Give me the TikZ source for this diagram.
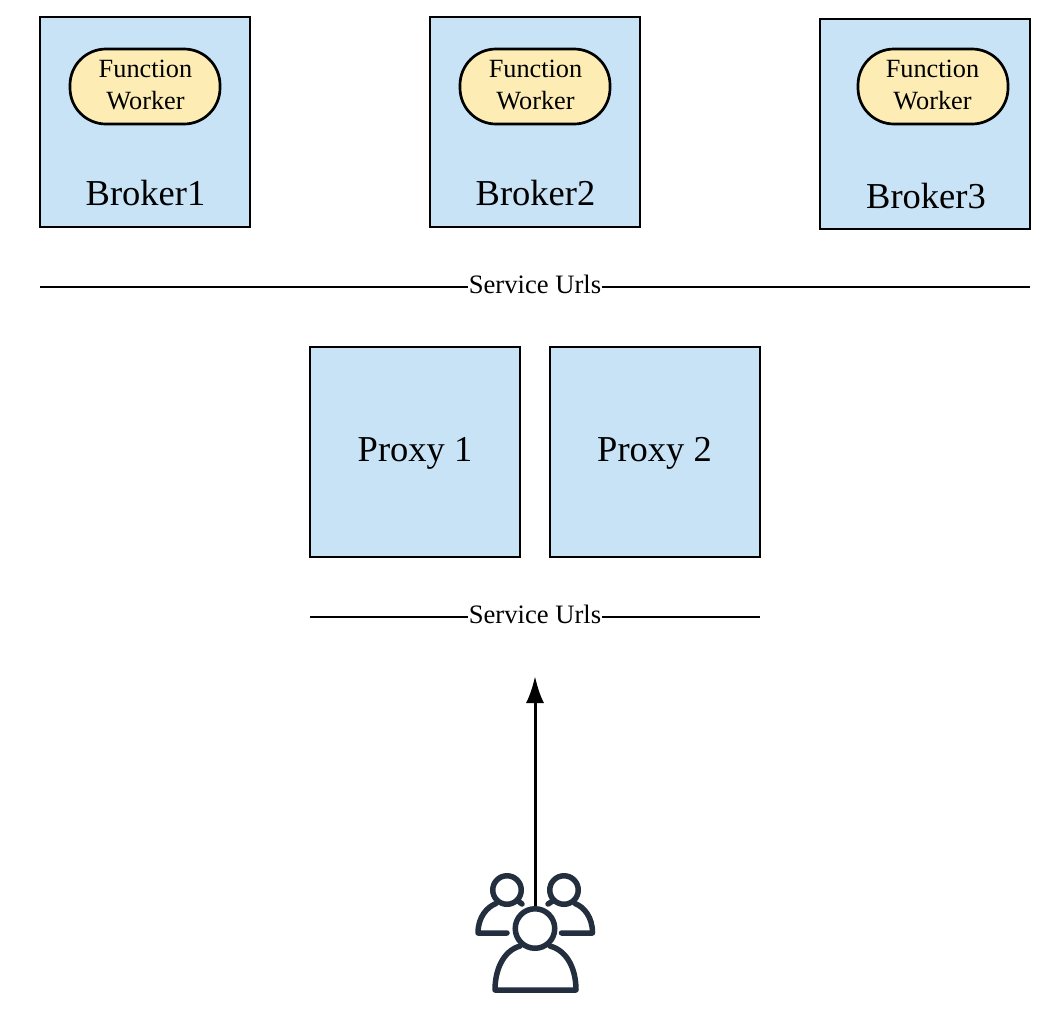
\documentclass[tikz,border=0pt]{standalone}
\usepackage{fontspec}
\setmainfont{Liberation Serif}
\usetikzlibrary{arrows.meta}
\definecolor{boxblue}{HTML}{C8E3F6}
\definecolor{pillyellow}{HTML}{FDEDB5}
\definecolor{icon}{HTML}{232F3E}
\tikzset{
  x=1pt,y=-1pt,
  bluebox/.style={draw=black,fill=boxblue,line width=2.7pt,minimum width=210pt,minimum height=210pt,inner sep=0pt},
  pill/.style={draw=black,fill=pillyellow,line width=2.7pt,rounded corners=36pt,minimum width=150pt,minimum height=75pt,inner sep=0pt},
  pilltext/.style={font=\fontsize{26.3}{32}\selectfont,align=center,inner sep=0pt},
  biglabel/.style={font=\fontsize{36.5}{40}\selectfont,inner sep=0pt},
  urllabel/.style={font=\fontsize{26.6}{30}\selectfont,fill=white,inner sep=1pt},
  rule/.style={line width=2.7pt,black},
  iconline/.style={draw=icon,line width=5.5pt,line cap=round,line join=round},
  head/.style={circle,draw=icon,line width=5.5pt,fill=white,inner sep=0pt},
}
\begin{document}
\begin{tikzpicture}
\useasboundingbox (0,0) rectangle (1062,1034);
% brokers
\node[bluebox] (b1) at (145,122) {};
\node[bluebox] (b2) at (535,122) {};
\node[bluebox] (b3) at (925,124) {};
\node[pill] (p1) at (145,86.5) {};
\node[pill] (p2) at (535,86.5) {};
\node[pill] (p3) at (933,86.5) {};
\node[pilltext] (f1) at (145.5,85) {Function\\Worker};
\node[pilltext] (f2) at (535.5,85) {Function\\Worker};
\node[pilltext] (f3) at (932.5,85) {Function\\Worker};
\node[biglabel] (l1) at (145.5,193) {Broker1};
\node[biglabel] (l2) at (535.5,193) {Broker2};
\node[biglabel] (l3) at (926,196) {Broker3};
% service urls 1
\coordinate (u1a) at (40,287);
\coordinate (u1b) at (1030,287);
\draw[rule] (u1a) -- (u1b);
\node[urllabel] (s1) at (535,284) {Service Urls};
% proxies
\node[bluebox] (x1) at (415,452) {};
\node[bluebox] (x2) at (655,452) {};
\node[biglabel] (xl1) at (415,453) {Proxy 1};
\node[biglabel] (xl2) at (654.5,453) {Proxy 2};
% service urls 2
\coordinate (u2a) at (310,617);
\coordinate (u2b) at (760,617);
\draw[rule] (u2a) -- (u2b);
\node[urllabel] (s2) at (535,614) {Service Urls};
% small users
\node[head,minimum size=28.5pt] (hl) at (507,890) {};
\node[head,minimum size=28.5pt] (hr) at (564,890) {};
\draw[iconline] (507,933) -- (478,933) .. controls (478,917) and (487,907) .. (496,903.5);
\draw[iconline] (517.5,900.5) -- (522,904);
\draw[iconline] (561.5,933) -- (592.5,933) .. controls (592.5,917) and (584,907) .. (575,903.5);
\draw[iconline] (553.5,900.5) -- (548,904);
% arrow
\coordinate (target) at (535,676);
\draw[line width=3pt,-{Latex[length=27pt,width=18pt]}] (535,915) -- (target);
% main user
\draw[iconline] (520,946) .. controls (503,951) and (495,970) .. (495,990) -- (576,990) .. controls (576,970) and (568,951) .. (550,946);
\node[head,fill=white,minimum size=39.5pt] (hm) at (535,928.5) {};
\end{tikzpicture}
\end{document}
